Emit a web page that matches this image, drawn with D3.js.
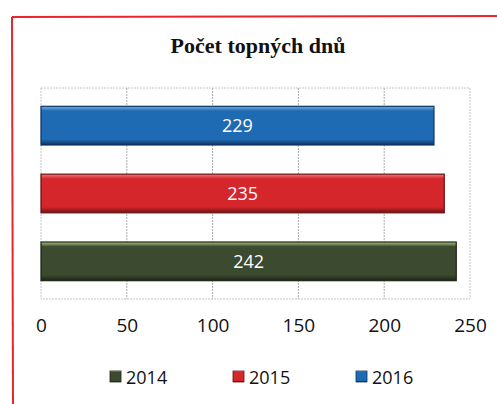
<!DOCTYPE html>
<html><head><meta charset="utf-8">
<script src="https://cdn.jsdelivr.net/npm/d3@7"></script>
<style>body{margin:0;background:#fff}svg{display:block}</style>
</head><body>
<script>
const title = "Počet topných dnů";
const categories = ["2016", "2015", "2014"];
const values = [229, 235, 242];
const legendLabels = ["2014", "2015", "2016"];
const tickValues = [0, 50, 100, 150, 200, 250];
const colors = {"2014": {base:"#3c4a2f", light:"#a9c77c", dark:"#1e2616"},
                "2015": {base:"#d4262b", light:"#f07a7c", dark:"#6e1012"},
                "2016": {base:"#1f6bb3", light:"#6fb0e6", dark:"#0d3461"}};

const W = 497, H = 404;
const svg = d3.select("body").append("svg").attr("width", W).attr("height", H);
const defs = svg.append("defs");
categories.forEach(c => {
  const g = defs.append("linearGradient").attr("id", "g" + c).attr("x1", 0).attr("y1", 0).attr("x2", 0).attr("y2", 1);
  g.append("stop").attr("offset", "0").attr("stop-color", colors[c].light);
  g.append("stop").attr("offset", "0.12").attr("stop-color", colors[c].base);
  g.append("stop").attr("offset", "0.85").attr("stop-color", colors[c].base);
  g.append("stop").attr("offset", "1").attr("stop-color", colors[c].dark);
});

// outer frame
svg.append("line").attr("x1", 12).attr("y1", 17).attr("x2", W).attr("y2", 16).attr("stroke", "#e8262c").attr("stroke-width", 2);
svg.append("line").attr("x1", 12).attr("y1", 17).attr("x2", 13).attr("y2", H).attr("stroke", "#e8262c").attr("stroke-width", 2);

svg.append("text").attr("x", 258).attr("y", 53).attr("text-anchor", "middle")
  .attr("font-family", "Liberation Serif, serif").attr("font-weight", "bold").attr("font-size", 22)
  .attr("fill", "#111").text(title);

const pLeft = 41, pRight = 470, pTop = 88, pBottom = 299;
const x = d3.scaleLinear().domain([0, 250]).range([pLeft, pRight]);
const y = d3.scaleBand().domain(categories).range([pTop, pBottom]).paddingInner(0.43).paddingOuter(0.27);

// plot area border
svg.append("rect").attr("x", pLeft).attr("y", pTop).attr("width", pRight - pLeft).attr("height", pBottom - pTop)
  .attr("fill", "none").attr("stroke", "#c4c4cc").attr("stroke-width", 1).attr("stroke-dasharray", "2,1");
// gridlines
svg.append("g").selectAll("line").data(tickValues.slice(1, -1)).join("line")
  .attr("x1", d => x(d)).attr("x2", d => x(d)).attr("y1", pTop).attr("y2", pBottom)
  .attr("stroke", "#aaaab2").attr("stroke-width", 1).attr("stroke-dasharray", "2,1");

// bars
svg.append("g").selectAll("rect").data(categories).join("rect")
  .attr("x", x(0)).attr("y", d => y(d)).attr("width", (d, i) => x(values[i]) - x(0)).attr("height", y.bandwidth())
  .attr("fill", d => "url(#g" + d + ")").attr("stroke", d => colors[d].dark).attr("stroke-width", 1.2);
svg.append("g").selectAll("text").data(categories).join("text")
  .attr("x", (d, i) => (x(0) + x(values[i])) / 2).attr("y", d => y(d) + y.bandwidth() / 2 + 6.5)
  .attr("text-anchor", "middle").attr("font-family", "Open Sans, sans-serif").attr("font-size", 18)
  .attr("fill", "#fff").text((d, i) => values[i]);

// x axis
const axis = svg.append("g").attr("transform", `translate(0,${pBottom})`)
  .call(d3.axisBottom(x).tickValues(tickValues).tickSize(0).tickPadding(0));
axis.select(".domain").remove();
axis.selectAll("text").attr("y", 33).attr("dy", 0).attr("font-family", "Open Sans, sans-serif")
  .attr("font-size", 19).attr("fill", "#111");

// legend
const legendX = [110, 233, 356];
const lg = svg.append("g").selectAll("g").data(legendLabels).join("g")
  .attr("transform", (d, i) => `translate(${legendX[i]},377)`);
lg.append("rect").attr("x", 0).attr("y", -6).attr("width", 11).attr("height", 11)
  .attr("fill", d => "url(#g" + d + ")").attr("stroke", d => colors[d].dark).attr("stroke-width", 0.8);
lg.append("text").attr("x", 16).attr("y", 6.5).attr("font-family", "Open Sans, sans-serif")
  .attr("font-size", 18).attr("fill", "#111").text(d => d);
</script>
</body></html>
